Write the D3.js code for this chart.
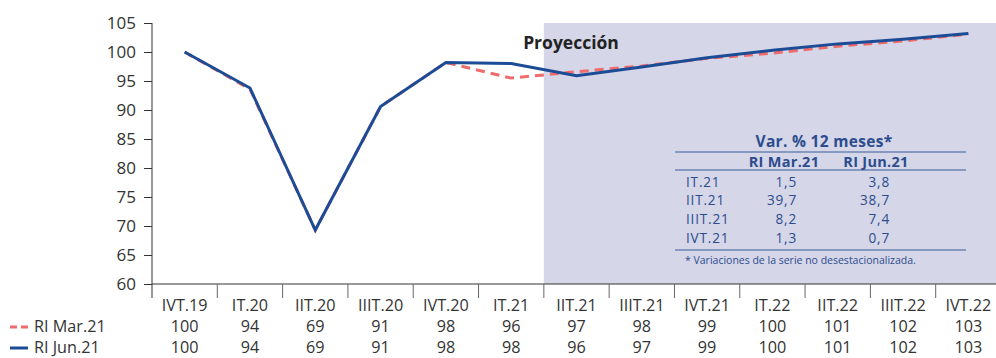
<!DOCTYPE html>
<html><head><meta charset="utf-8">
<script src="https://cdn.jsdelivr.net/npm/d3@7"></script>
<style>body{margin:0;background:#fff}svg{display:block;font-family:"Open Sans",sans-serif}</style>
</head><body><svg id="c" width="996" height="358"></svg>
<script>
const categories = ["IVT.19","IT.20","IIT.20","IIIT.20","IVT.20","IT.21","IIT.21","IIIT.21","IVT.21","IT.22","IIT.22","IIIT.22","IVT.22"];
const riMar = [100,93.6,69.3,90.6,98.2,95.5,96.6,97.6,98.9,99.8,101.0,101.9,103.1];
const riJun = [100,93.8,69.3,90.6,98.2,98.0,95.9,97.4,99.0,100.3,101.4,102.2,103.2];
const riMarLabels = ["100","94","69","91","98","96","97","98","99","100","101","102","103"];
const riJunLabels = ["100","94","69","91","98","98","96","97","99","100","101","102","103"];
const yTicks = [60,65,70,75,80,85,90,95,100,105];
const projStart = "IIT.21";
const tableRows = ["IT.21","IIT.21","IIIT.21","IVT.21"];
const tableMar = ["1,5","39,7","8,2","1,3"];
const tableJun = ["3,8","38,7","7,4","0,7"];

const FONT = "Open Sans";
const svg = d3.select("#c");
const x = d3.scaleBand().domain(categories).range([152, 1001]).padding(0);
const y = d3.scaleLinear().domain([60,105]).range([284, 23]);
const blue = "#1d4c97", red = "#f06b6b", shade = "#d5d6e8", txt = "#333";

// projection shading
svg.append("rect").attr("x", x(projStart)).attr("y", y(105))
  .attr("width", 1001 - x(projStart)).attr("height", y(60) - y(105)).attr("fill", shade);

// y axis
const ya = svg.append("g").attr("transform","translate(152,0)")
  .call(d3.axisLeft(y).tickValues(yTicks).tickSize(8).tickPadding(8));
ya.select(".domain").remove();
ya.selectAll(".tick line").attr("stroke","#333");
ya.selectAll("text").attr("font-size",17).attr("fill",txt).attr("font-family",FONT);
svg.append("line").attr("x1",152).attr("x2",152).attr("y1",y(105)).attr("y2",298).attr("stroke","#333");

// x axis
svg.append("line").attr("x1",152).attr("x2",1001).attr("y1",y(60)).attr("y2",y(60)).attr("stroke","#333");
svg.selectAll(".xt").data(categories.slice(1)).enter().append("line")
  .attr("x1",d=>x(d)).attr("x2",d=>x(d)).attr("y1",y(60)).attr("y2",298).attr("stroke","#666");
const cx = d => x(d) + x.bandwidth()/2;
const FS = 16.2;
svg.selectAll(".cl").data(categories).enter().append("text")
  .attr("x",cx).attr("y",310.5).attr("text-anchor","middle").attr("font-size",FS).attr("fill",txt).text(d=>d);
svg.selectAll(".r1").data(categories).enter().append("text")
  .attr("x",cx).attr("y",332).attr("text-anchor","middle").attr("font-size",FS).attr("fill",txt).text((d,i)=>riMarLabels[i]);
svg.selectAll(".r2").data(categories).enter().append("text")
  .attr("x",cx).attr("y",353.2).attr("text-anchor","middle").attr("font-size",FS).attr("fill",txt).text((d,i)=>riJunLabels[i]);

// legend
svg.append("line").attr("x1",10).attr("x2",28).attr("y1",327).attr("y2",327).attr("stroke",red).attr("stroke-width",3).attr("stroke-dasharray","7,4");
svg.append("text").attr("x",34).attr("y",332).attr("font-size",FS).attr("fill",txt).text("RI Mar.21");
svg.append("line").attr("x1",10).attr("x2",28).attr("y1",348).attr("y2",348).attr("stroke",blue).attr("stroke-width",3);
svg.append("text").attr("x",34).attr("y",353.2).attr("font-size",FS).attr("fill",txt).text("RI Jun.21");

// lines
const line = d3.line().x((d,i)=>cx(categories[i])).y(d=>y(d));
svg.append("path").datum(riMar).attr("d",line).attr("fill","none").attr("stroke",red).attr("stroke-width",3).attr("stroke-dasharray","9,6");
svg.append("path").datum(riJun).attr("d",line).attr("fill","none").attr("stroke",blue).attr("stroke-width",3).attr("stroke-linejoin","miter");

// Proyección label
svg.append("text").attr("x",571).attr("y",49).attr("text-anchor","middle").attr("font-size",17.5).attr("font-weight","bold").attr("fill","#222").text("Proyección");

// table
const tb = svg.append("g").attr("fill","#2c4c8e");
tb.append("text").attr("x",824).attr("y",147).attr("text-anchor","middle").attr("font-size",15.5).attr("font-weight","bold").attr("letter-spacing",0.3).text("Var. % 12 meses*");
[152,170,250].forEach(yy=>tb.append("line").attr("x1",675).attr("x2",966).attr("y1",yy).attr("y2",yy).attr("stroke","#3a5a9a").attr("stroke-width",1.2));
tb.append("text").attr("x",784).attr("y",167).attr("text-anchor","middle").attr("font-size",14.5).attr("font-weight","bold").attr("letter-spacing",0.3).text("RI Mar.21");
tb.append("text").attr("x",876).attr("y",167).attr("text-anchor","middle").attr("font-size",14.5).attr("font-weight","bold").attr("letter-spacing",0.3).text("RI Jun.21");
const TS = 13.6;
tableRows.forEach((r,i)=>{
  const yy = 186.5 + i*18.7;
  tb.append("text").attr("x",686).attr("y",yy).attr("font-size",TS).attr("letter-spacing",0.8).text(r);
  tb.append("text").attr("x",797).attr("y",yy).attr("text-anchor","end").attr("font-size",TS).attr("letter-spacing",0.8).text(tableMar[i]);
  tb.append("text").attr("x",890).attr("y",yy).attr("text-anchor","end").attr("font-size",TS).attr("letter-spacing",0.8).text(tableJun[i]);
});
tb.append("text").attr("x",685).attr("y",264).attr("font-size",10.5).text("* Variaciones de la serie no desestacionalizada.");
</script></body></html>
